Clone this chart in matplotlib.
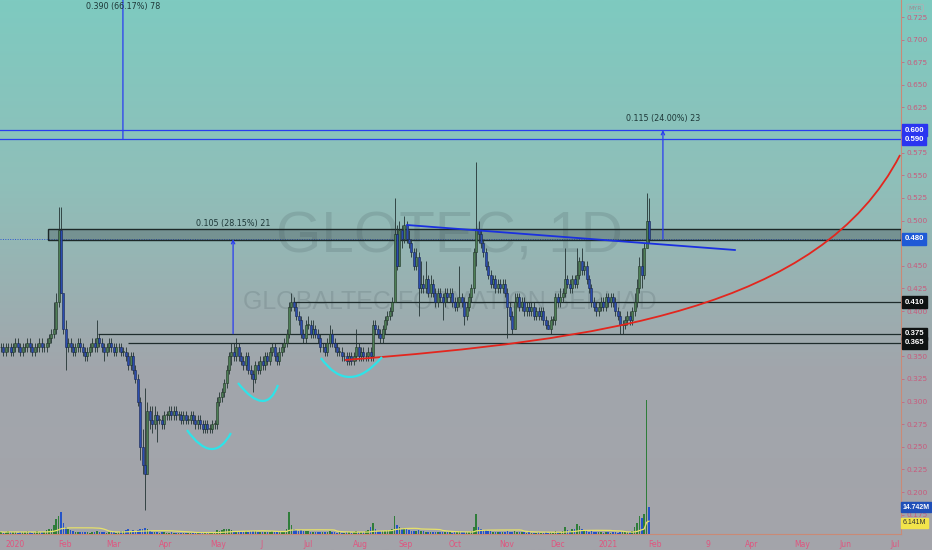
import numpy as np
import matplotlib
matplotlib.use('Agg')
import matplotlib.pyplot as plt
import matplotlib.transforms as mtransforms
from matplotlib.path import Path
from matplotlib.patches import PathPatch, Rectangle
from matplotlib.colors import LinearSegmentedColormap
import pandas as pd

# ---- daily bars, prices in sen (GLOTEC, Jan 2020 - Jan 2021) ----
first_open = 36
closes = [
    36, 35.5, 36, 36, 35.5, 36, 36.5, 36, 35.5, 36,
    36, 36.5, 36, 35.5, 36, 36, 36.5, 36, 36, 36.5,
    37, 37.5, 38, 41, 49, 42, 38, 36, 36.5, 36,
    35.5, 36, 36.5, 36, 35.5, 35, 35.5, 36, 36.5, 36,
    37, 36.5, 36, 35.5, 36, 36.5, 36, 35.5, 36, 36,
    35.5, 35.5, 35, 34, 35, 33.5, 32.5, 30, 25, 23,
    22, 29, 28, 27.5, 28.5, 28, 28, 27.5, 28.5, 28.5,
    29, 28.5, 29, 28.5, 28.5, 28, 28.5, 28, 28, 28.5,
    28, 27.5, 28, 27.5, 27, 27.5, 27, 27, 27.5, 27.5,
    30, 30.5, 31, 32, 33.5, 35, 35.5, 35, 36, 35,
    34.5, 34, 35, 33.5, 33, 32.5, 34, 33.5, 34.5, 34,
    35, 34.5, 35.5, 36, 35, 34.5, 35.5, 36, 36.5, 37.5,
    40.5, 41, 40.5, 39.5, 39, 37.5, 37, 38.5, 38.5, 37.5,
    38, 37.5, 37, 36, 36, 35.5, 36.5, 37.5, 36.5, 36,
    35.5, 35.5, 35, 35, 34.5, 35, 34.5, 35, 36, 35,
    35.5, 35, 35, 35.5, 35, 38.5, 38, 37.5, 37, 38,
    39, 39.5, 40, 41, 48.5, 45, 49, 48, 49.5, 48,
    47.5, 46.5, 45, 46, 42.5, 43, 42.5, 43.5, 42, 43,
    42, 41, 42, 41.5, 41, 42, 41.5, 42, 41, 40.5,
    41, 41.5, 41, 39.5, 40.5, 41.5, 42.5, 46.5, 49, 48.5,
    47.5, 46.5, 45, 44, 43, 43.5, 42.5, 43, 42.5, 43,
    42, 40.5, 39.5, 38, 41, 41.5, 40.5, 41, 40, 40.5,
    40, 40.5, 39.5, 40, 39.5, 40, 39, 38.5, 38, 39,
    39, 41.5, 41, 41.5, 42, 43.5, 43, 42.5, 43.5, 43,
    44, 45.5, 44.5, 45, 43.5, 42.5, 41, 40.5, 40, 40.5,
    41, 40.5, 41.5, 41, 41.5, 41, 40, 39.5, 38.5, 38.5,
    39, 39.5, 39, 40, 41, 42.5, 45, 44, 47, 50, 48,
]
highs = [
    36.5, 36.5, 36.5, 36.5, 36.5, 36.5, 37, 37, 36.5, 36.5,
    36.5, 37, 37, 36.5, 36.5, 36.5, 37, 37, 36.5, 37,
    37.5, 38, 41, 42, 51.5, 51.5, 41, 39, 37, 37,
    36.5, 36.5, 37, 37, 36.5, 36, 36, 36.5, 37, 37,
    39, 37.5, 37, 36.5, 36.5, 37, 37, 36.5, 36.5, 36.5,
    36.5, 36, 36, 35.5, 35.5, 35.5, 34, 33, 30.5, 27,
    31.5, 30, 29.5, 29.5, 29.5, 29, 28.5, 28.5, 29, 29,
    29.5, 29.5, 29.5, 29.5, 29, 29, 29, 29, 28.5, 29,
    29, 28.5, 28.5, 28.5, 28, 28, 28, 27.5, 28, 28,
    30.5, 31, 31.5, 32.5, 34, 35.5, 36.5, 36.5, 37, 36.5,
    35.5, 35, 35.5, 35.5, 34, 33.5, 34.5, 34.5, 35, 35,
    35.5, 35.5, 36, 36.5, 36.5, 35.5, 36, 36.5, 37, 38,
    41, 42, 41.5, 41, 40, 39.5, 38, 39, 39.5, 39,
    39, 38.5, 38, 37.5, 36.5, 36.5, 37, 38.5, 38, 37,
    36.5, 36, 36, 35.5, 35.5, 35.5, 35.5, 35.5, 38, 36.5,
    36, 36, 35.5, 36, 36, 39, 39, 38.5, 38, 38.5,
    39.5, 40, 40.5, 41.5, 52.5, 49.5, 50, 49.5, 50.5, 50,
    49, 48, 47, 47, 46.5, 45.5, 44, 45.5, 44, 44,
    43.5, 42.5, 42.5, 42.5, 42, 42.5, 42.5, 42.5, 42.5, 41.5,
    41.5, 45, 42, 41.5, 41, 42, 43, 47, 56.5, 50,
    49, 48, 47, 45.5, 44.5, 44, 44, 43.5, 43.5, 43.5,
    43.5, 42.5, 41, 40, 42, 42, 42, 41.5, 41.5, 41,
    41, 41, 41, 40.5, 40.5, 40.5, 40.5, 39.5, 39, 39.5,
    39.5, 42, 42, 42.5, 42.5, 47, 44, 43.5, 44, 44,
    47, 46, 47, 45.5, 45.5, 44, 43, 41.5, 41, 41,
    41.5, 41.5, 42, 42, 42, 42, 41.5, 40.5, 40, 39,
    39.5, 40, 40, 40.5, 42, 43.5, 46, 47, 47.5, 53, 52.5,
]
lows = [
    35.5, 35, 35, 35.5, 35, 35, 35.5, 35.5, 35, 35,
    35.5, 35.5, 35.5, 35, 35, 35.5, 35.5, 35.5, 35.5, 35.5,
    36, 36.5, 37, 37.5, 40.5, 42, 37.5, 33.5, 35.5, 35.5,
    35, 35, 35.5, 35.5, 35, 34.5, 34.5, 35, 35.5, 35.5,
    35.5, 36, 35.5, 34.5, 35, 35.5, 35.5, 35, 35, 35.5,
    35, 35, 34.5, 33.5, 33.5, 33, 32, 29.5, 23.5, 22,
    18, 22, 27, 26.5, 27, 25.5, 27.5, 27, 27, 28,
    28, 28, 28, 28, 28, 27.5, 27.5, 27.5, 27.5, 27.5,
    27.5, 27, 27, 27, 26.5, 26.5, 26.5, 26.5, 26.5, 27,
    27, 29.5, 30, 30.5, 31.5, 33, 34, 34.5, 34.5, 34.5,
    34, 33.5, 33.5, 33, 32.5, 31, 32, 33, 33, 33.5,
    33.5, 34, 34, 35, 34.5, 34, 34, 35, 35.5, 36,
    37, 40, 40, 39, 38.5, 37, 36.5, 36.5, 38, 37,
    37, 37, 36.5, 35.5, 35.5, 35, 35, 36, 36, 35.5,
    35, 35, 34.5, 34.5, 34, 34, 34, 34, 34.5, 34.5,
    34.5, 34.5, 34.5, 34.5, 34.5, 34.5, 37.5, 37, 36.5, 36.5,
    37.5, 38.5, 39, 39.5, 41, 44.5, 45, 47, 47.5, 47.5,
    47, 46, 44.5, 44.5, 39.5, 42, 42, 42, 41.5, 41.5,
    41.5, 40.5, 40.5, 41, 39, 40.5, 41, 41, 40.5, 40,
    40, 40.5, 40.5, 38.5, 39, 40, 41, 42, 45, 47.5,
    47, 46, 44.5, 43.5, 42.5, 42.5, 42, 42, 42, 42,
    41.5, 37, 39, 37.5, 38, 40.5, 40, 40, 39.5, 39.5,
    39.5, 39.5, 39, 39, 39, 39, 38.5, 38, 38, 37.5,
    38.5, 38.5, 40.5, 40.5, 41, 41.5, 42.5, 42, 42, 42.5,
    42.5, 43.5, 44, 44, 43, 42, 40.5, 40, 39.5, 39.5,
    40, 40, 40, 40.5, 40.5, 40.5, 39.5, 39, 37.5, 37.5,
    38, 38.5, 38.5, 38.5, 39.5, 40.5, 42, 42.5, 43.5, 47, 47.5,
]
# volume, millions of shares
volumes = [
    1.2, 0.8, 1.0, 1.5, 0.9, 1.1, 1.3, 0.8, 1.0, 1.2,
    0.9, 1.4, 1.0, 0.8, 1.1, 1.5, 1.2, 0.9, 1.3, 2.0,
    2.5, 3.0, 5.0, 8.0, 10.0, 12.0, 6.0, 4.0, 2.5, 2.0,
    1.5, 1.2, 1.0, 1.3, 0.9, 1.1, 1.0, 0.8, 1.2, 1.0,
    1.8, 1.2, 0.9, 1.0, 0.8, 1.1, 0.9, 1.0, 0.8, 1.2,
    1.5, 1.8, 2.2, 2.5, 1.6, 2.0, 1.8, 2.4, 3.0, 2.6,
    3.2, 2.8, 1.8, 1.2, 1.0, 1.1, 0.8, 0.9, 1.0, 0.8,
    0.7, 0.9, 0.8, 0.7, 0.6, 0.8, 0.7, 0.6, 0.8, 0.7,
    0.6, 0.7, 0.8, 0.6, 0.9, 0.7, 0.6, 0.8, 0.7, 1.0,
    2.0, 1.8, 2.2, 2.5, 3.0, 2.8, 2.0, 1.6, 1.8, 1.5,
    1.4, 1.2, 1.5, 1.3, 1.6, 1.8, 1.4, 1.2, 1.3, 1.1,
    1.2, 1.0, 1.3, 1.5, 1.1, 1.0, 1.2, 1.4, 1.8, 3.0,
    12.0, 5.0, 3.0, 2.2, 1.8, 2.0, 1.6, 1.5, 1.4, 1.3,
    1.2, 1.1, 1.3, 1.0, 0.9, 1.1, 1.2, 1.4, 1.0, 0.9,
    0.8, 0.9, 0.7, 0.8, 0.9, 1.0, 0.8, 0.9, 1.5, 1.0,
    1.2, 1.0, 1.4, 2.0, 4.0, 6.0, 2.5, 1.8, 1.5, 1.6,
    1.8, 2.0, 2.2, 3.0, 10.0, 5.0, 4.0, 3.0, 3.5, 2.5,
    2.0, 1.8, 1.6, 1.5, 2.2, 1.6, 1.4, 1.3, 1.2, 1.1,
    1.0, 1.2, 1.1, 0.9, 1.0, 1.2, 0.9, 1.0, 0.8, 0.9,
    1.0, 1.4, 1.0, 1.2, 0.9, 1.1, 1.6, 4.0, 11.0, 4.0,
    3.0, 2.4, 2.0, 1.8, 1.5, 1.2, 1.3, 1.1, 1.2, 1.0,
    1.1, 1.5, 1.2, 1.3, 1.6, 1.2, 1.0, 1.1, 0.9, 0.8,
    0.9, 0.8, 0.7, 0.8, 0.9, 0.7, 0.8, 0.9, 0.8, 0.9,
    0.8, 1.6, 1.2, 1.0, 1.4, 4.0, 2.0, 1.8, 2.5, 3.0,
    5.5, 4.5, 2.5, 1.8, 1.5, 1.2, 1.4, 1.0, 0.9, 1.0,
    0.9, 0.8, 1.0, 0.9, 0.8, 0.9, 1.0, 0.8, 1.2, 1.0,
    0.9, 1.0, 1.1, 1.5, 4.0, 6.0, 10.0, 9.0, 11.0, 73.0, 14.742,
]

# month labels (bar index positions, incl. future area)
month_pos = [5.8, 26.7, 46.7, 68.75, 90.4, 108.75, 127.9, 149.6, 168.75, 189.2,
             210.8, 231.7, 252.9, 272.5, 294.6, 312.9, 333.75, 351.7, 372.5]
month_lbl = ['2020', 'Feb', 'Mar', 'Apr', 'May', 'J', 'Jul', 'Aug', 'Sep', 'Oct',
             'Nov', 'Dec', '2021', 'Feb', '9', 'Apr', 'May', 'Jun', 'Jul']

# price scale ticks; those hidden behind price tags get no label
price_ticks = np.arange(0.175, 0.7251, 0.025)
hidden_ticks = [0.600, 0.475, 0.375]

# drawings (bar index, price)
zone_lo, zone_hi, zone_start = 0.4785, 0.4907, 19.6
level_lines = [(0.410, 121.7), (0.375, 40.4), (0.365, 52.9)]
blue_levels = [0.600, 0.590]
trend_x = [169.2, 305.8]
trend_y = [0.4951, 0.4675]
curve_x = [143.3, 249.6, 341.25, 374.6]
curve_y = [0.3459, 0.368, 0.4012, 0.5725]
arcs = [
    ([77.5, 88.3, 95.8], [0.2685, 0.2282, 0.2652]),
    ([98.75, 110.4, 115.4], [0.3205, 0.2818, 0.3183]),
    ([133.3, 144.8, 158.75], [0.3481, 0.3056, 0.3492]),
]
measures = [
    (50.8, 0.590, 0.760, 0.7361, '0.390 (66.17%) 78'),
    (96.7, 0.375, 0.4795, 0.4973, '0.105 (28.15%) 21'),
    (275.8, 0.4795, 0.600, 0.6123, '0.115 (24.00%) 23'),
]

XMAX = 375
opens = [first_open] + closes[:-1]
o = np.array(opens) / 100
c = np.array(closes) / 100
h = np.array(highs) / 100
l = np.array(lows) / 100
v = np.array(volumes)
idx = np.arange(len(c))
up = c >= o

fig = plt.figure(figsize=(9.32, 5.5), dpi=100)

# background gradient
bg = fig.add_axes([0, 0, 1, 1])
cmap = LinearSegmentedColormap.from_list('bg', ['#7ecac0', '#8fbfb9', '#a1a6ac', '#a4a4aa'])
bg.imshow(np.linspace(0, 1, 256).reshape(-1, 1), cmap=cmap, aspect='auto', extent=[0, 1, 0, 1])
bg.axis('off')

ax = fig.add_axes([0, 16 / 550, 901 / 932, 534 / 550])
ax.set_facecolor('none')
ax.set_xlim(-0.42, XMAX)
ax.set_ylim(0.1536, 0.7438)

# volume pane shares the x axis
ax2 = ax.twinx()
ax2.set_ylim(0, 291.6)
ax2.axis('off')

# watermark
wm = '#2a3a40'
ax.text(0.499, 0.556, 'GLOTEC, 1D', transform=ax.transAxes, fontsize=42,
        family='Liberation Sans', color=wm, alpha=0.14, ha='center', va='center', zorder=1)
ax.text(0.499, 0.4345, 'GLOBALTEC FORMATION BERHAD', transform=ax.transAxes, fontsize=18,
        family='Liberation Sans', color=wm, alpha=0.14, ha='center', va='center', zorder=1)

# levels
blue = '#2a3cf0'
for y in blue_levels:
    ax.axhline(y, color=blue, lw=0.9, zorder=3)
ax.axhline(0.4797, color='#2a55d0', lw=0.7, ls=(0, (1, 1.5)), zorder=2)
ax.add_patch(Rectangle((zone_start, zone_lo), XMAX - zone_start, zone_hi - zone_lo,
                       fc=(0.22, 0.28, 0.3, 0.33), ec='#1c2828', lw=1.0, zorder=3))
for y, x0 in level_lines:
    ax.hlines(y, x0, XMAX, color='#1e2c2c', lw=0.9, zorder=3)

# candles
ax.vlines(idx, l, h, color='#233333', lw=0.6, zorder=4)
body = np.maximum(np.abs(c - o), 0.0008)
bot = np.minimum(o, c)
ax.bar(idx[up], body[up], bottom=bot[up], width=0.8, color='#4d7f55',
       edgecolor='#1f3324', lw=0.4, zorder=5)
ax.bar(idx[~up], body[~up], bottom=bot[~up], width=0.8, color='#2a4db0',
       edgecolor='#17244f', lw=0.4, zorder=5)

# trend line and curve
ax.plot(trend_x, trend_y, color='#1a30e0', lw=1.3, zorder=6)
verts = list(zip(curve_x, curve_y))
ax.add_patch(PathPatch(Path(verts, [Path.MOVETO, Path.CURVE4, Path.CURVE4, Path.CURVE4]),
                       fc='none', ec='#e3261e', lw=1.3, zorder=6))
for xs, ys in arcs:
    ax.add_patch(PathPatch(Path(list(zip(xs, ys)), [Path.MOVETO, Path.CURVE3, Path.CURVE3]),
                           fc='none', ec='#2fe3e8', lw=1.6, zorder=6))

# measure arrows
for x, y0, y1, yt, txt in measures:
    ax.annotate('', xy=(x, y1), xytext=(x, y0),
                arrowprops=dict(arrowstyle='->', color=blue, lw=0.9, shrinkA=0, shrinkB=0,
                                mutation_scale=6), zorder=6, annotation_clip=False)
    ax.text(x, yt, txt, fontsize=5.8, color='#1e3838', ha='center', va='center', zorder=7)

# axes styling
for s in ['left', 'top']:
    ax.spines[s].set_visible(False)
for s in ['right', 'bottom']:
    ax.spines[s].set_color('#c98a76')
    ax.spines[s].set_linewidth(0.8)
ax.set_yticks(price_ticks)
ax.set_yticklabels(['' if any(abs(t - hdn) < 1e-6 for hdn in hidden_ticks) else f'{t:.3f}'
                    for t in price_ticks])
ax.yaxis.tick_right()
ax.tick_params(axis='y', which='both', left=False, labelleft=False, right=True, labelright=True,
               labelsize=5.3, colors='#c95a7c', length=2, width=0.5, pad=2)
ax.set_xticks(month_pos, month_lbl)
ax.tick_params(axis='x', labelsize=5.5, labelcolor='#e0557f', length=0, pad=4)

# price tags
tag_font = dict(family='Liberation Sans', fontweight='bold')
tr = mtransforms.blended_transform_factory(ax.transAxes, ax.transData)
tags = [(0.600, '0.600', '#2b35f0'), (0.590, '0.590', '#2b35f0'), (0.480, '0.480', '#1f5ad6'),
        (0.410, '0.410', '#0e1212'), (0.375, '0.375', '#0e1212'), (0.365, '0.365', '#0e1212')]
for y, txt, col in tags:
    ax.text(1.004, y, txt, transform=tr, fontsize=5.7, color='white', ha='left', va='center',
            zorder=8, bbox=dict(boxstyle='square,pad=0.3', fc=col, ec=col), **tag_font)

# volume bars and average
ax2.bar(idx[up], v[up], width=0.6, color='#2f7d3a', zorder=2)
ax2.bar(idx[~up], v[~up], width=0.6, color='#2453c8', zorder=2)
vma = pd.Series(v).rolling(20, min_periods=1).mean()
ax2.plot(idx, vma, color='#e6e16a', lw=0.9, zorder=3)
tr2 = mtransforms.blended_transform_factory(ax2.transAxes, ax2.transData)
ax2.text(1.002, 14.742, '14.742M', transform=tr2, fontsize=5.0, color='white',
         ha='left', va='center', bbox=dict(boxstyle='square,pad=0.2', fc='#1f4fb8', ec='#1f4fb8'),
         **tag_font)
ax2.text(1.002, 6.141, '6.141M', transform=tr2, fontsize=5.0, color='#333333',
         ha='left', va='center', bbox=dict(boxstyle='square,pad=0.2', fc='#f2e44a', ec='#f2e44a'),
         family='Liberation Sans')

fig.text(0.982, 0.985, 'MYR', fontsize=4.5, color='#a08890', ha='center', va='center',
         bbox=dict(boxstyle='round,pad=0.25', fc='none', ec='#b8aab2', lw=0.5))

fig.savefig('out.png', dpi=100)
